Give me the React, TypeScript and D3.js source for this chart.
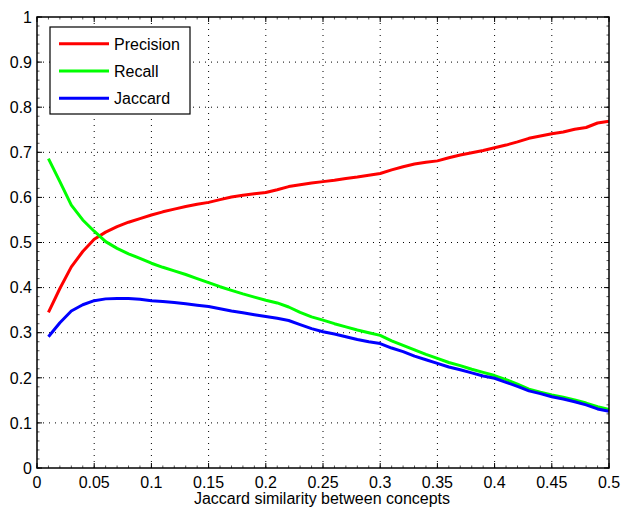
import React from "react";
import * as d3 from "d3";

const thresholds = [0.01,0.02,0.03,0.04,0.05,0.06,0.07,0.08,0.09,0.1,0.11,0.12,0.13,0.14,0.15,0.16,0.17,0.18,0.19,0.2,0.21,0.22,0.23,0.24,0.25,0.26,0.27,0.28,0.29,0.3,0.31,0.32,0.33,0.34,0.35,0.36,0.37,0.38,0.39,0.4,0.41,0.42,0.43,0.44,0.45,0.46,0.47,0.48,0.49,0.5];

const precision = [0.345,0.398,0.446,0.48,0.507,0.523,0.535,0.545,0.553,0.561,0.568,0.574,0.58,0.585,0.589,0.595,0.601,0.605,0.608,0.611,0.617,0.624,0.628,0.632,0.635,0.638,0.642,0.645,0.649,0.653,0.661,0.668,0.674,0.678,0.681,0.688,0.694,0.699,0.704,0.71,0.716,0.723,0.731,0.736,0.741,0.745,0.751,0.755,0.765,0.769];

const recall = [0.686,0.635,0.583,0.55,0.525,0.502,0.487,0.475,0.465,0.454,0.445,0.437,0.429,0.42,0.411,0.402,0.394,0.386,0.379,0.372,0.366,0.357,0.345,0.335,0.328,0.32,0.313,0.306,0.3,0.294,0.282,0.272,0.262,0.252,0.243,0.234,0.227,0.219,0.212,0.205,0.196,0.186,0.175,0.168,0.162,0.157,0.151,0.144,0.136,0.13];

const jaccard = [0.291,0.322,0.348,0.362,0.371,0.375,0.376,0.376,0.374,0.371,0.369,0.367,0.364,0.361,0.358,0.353,0.348,0.344,0.34,0.336,0.332,0.327,0.318,0.309,0.302,0.297,0.291,0.285,0.28,0.276,0.266,0.258,0.248,0.24,0.232,0.224,0.218,0.211,0.204,0.199,0.19,0.181,0.171,0.165,0.158,0.153,0.147,0.14,0.131,0.126];

const seriesNames = ["Precision", "Recall", "Jaccard"];
const seriesColors = ["#ff0000", "#00ff00", "#0000ff"];
const xTicks = [0,0.05,0.1,0.15,0.2,0.25,0.3,0.35,0.4,0.45,0.5];
const xTickLabels = ["0","0.05","0.1","0.15","0.2","0.25","0.3","0.35","0.4","0.45","0.5"];
const yTicks = [0,0.1,0.2,0.3,0.4,0.5,0.6,0.7,0.8,0.9,1];
const yTickLabels = ["0","0.1","0.2","0.3","0.4","0.5","0.6","0.7","0.8","0.9","1"];
const xLabel = "Jaccard similarity between concepts";

export default function App() {
  const W = 623, H = 511;
  const L = 37, R = 609, T = 17, B = 468;
  const x = d3.scaleLinear().domain([0, 0.5]).range([L, R]);
  const y = d3.scaleLinear().domain([0, 1]).range([B, T]);
  const series = [precision, recall, jaccard];
  const line = d3.line<number>().x((_, i) => x(thresholds[i])).y((d) => y(d));
  const font = "'Liberation Sans', Arial, Helvetica, sans-serif";
  const xMinor = d3.range(0, 0.5001, 0.01);
  const yMinor = d3.range(0, 1.0001, 0.02);

  return (
    <svg width={W} height={H} style={{ position: "absolute", left: 0, top: 0, background: "#fff" }}>
      <rect x={0} y={0} width={W} height={H} fill="#fff" />
      {/* grid */}
      {xTicks.slice(1, -1).map((t, i) => (
        <line key={"gx" + i} x1={x(t)} x2={x(t)} y1={T} y2={B} stroke="#000" strokeWidth={1} strokeDasharray="1,5" />
      ))}
      {yTicks.slice(1, -1).map((t, i) => (
        <line key={"gy" + i} x1={L} x2={R} y1={y(t)} y2={y(t)} stroke="#000" strokeWidth={1} strokeDasharray="1,5" />
      ))}
      {/* minor ticks */}
      {xMinor.map((t, i) => (
        <g key={"mx" + i} stroke="#555" strokeWidth={1}>
          <line x1={x(t)} x2={x(t)} y1={B} y2={B - 2.5} />
          <line x1={x(t)} x2={x(t)} y1={T} y2={T + 2.5} />
        </g>
      ))}
      {yMinor.map((t, i) => (
        <g key={"my" + i} stroke="#555" strokeWidth={1}>
          <line x1={L} x2={L + 2.5} y1={y(t)} y2={y(t)} />
          <line x1={R} x2={R - 2.5} y1={y(t)} y2={y(t)} />
        </g>
      ))}
      {/* major ticks */}
      {xTicks.map((t, i) => (
        <g key={"tx" + i} stroke="#000" strokeWidth={1}>
          <line x1={x(t)} x2={x(t)} y1={B} y2={B - 5} />
          <line x1={x(t)} x2={x(t)} y1={T} y2={T + 5} />
        </g>
      ))}
      {yTicks.map((t, i) => (
        <g key={"ty" + i} stroke="#000" strokeWidth={1}>
          <line x1={L} x2={L + 5} y1={y(t)} y2={y(t)} />
          <line x1={R} x2={R - 5} y1={y(t)} y2={y(t)} />
        </g>
      ))}
      {/* series */}
      {series.map((s, i) => (
        <path key={"s" + i} d={line(s) || ""} fill="none" stroke={seriesColors[i]} strokeWidth={3} strokeLinejoin="round" />
      ))}
      {/* axes box */}
      <rect x={L} y={T} width={R - L} height={B - T} fill="none" stroke="#000" strokeWidth={1.5} />
      {/* tick labels */}
      {xTicks.map((t, i) => (
        <text key={"lx" + i} x={x(t)} y={488} textAnchor="middle" fontFamily={font} fontSize={16} fill="#000">
          {xTickLabels[i]}
        </text>
      ))}
      {yTicks.map((t, i) => (
        <text key={"ly" + i} x={32} y={y(t) + 5.7} textAnchor="end" fontFamily={font} fontSize={16} fill="#000">
          {yTickLabels[i]}
        </text>
      ))}
      <text x={322} y={504} textAnchor="middle" fontFamily={font} fontSize={16} fill="#000">
        {xLabel}
      </text>
      {/* legend */}
      <rect x={50} y={27} width={140} height={87} fill="#fff" stroke="#000" strokeWidth={1.2} />
      {seriesNames.map((n, i) => (
        <g key={"lg" + i}>
          <line x1={59} x2={109} y1={43.7 + i * 27.3} y2={43.7 + i * 27.3} stroke={seriesColors[i]} strokeWidth={3} />
          <text x={114} y={49.5 + i * 27.3} fontFamily={font} fontSize={16} fill="#000">{n}</text>
        </g>
      ))}
    </svg>
  );
}
